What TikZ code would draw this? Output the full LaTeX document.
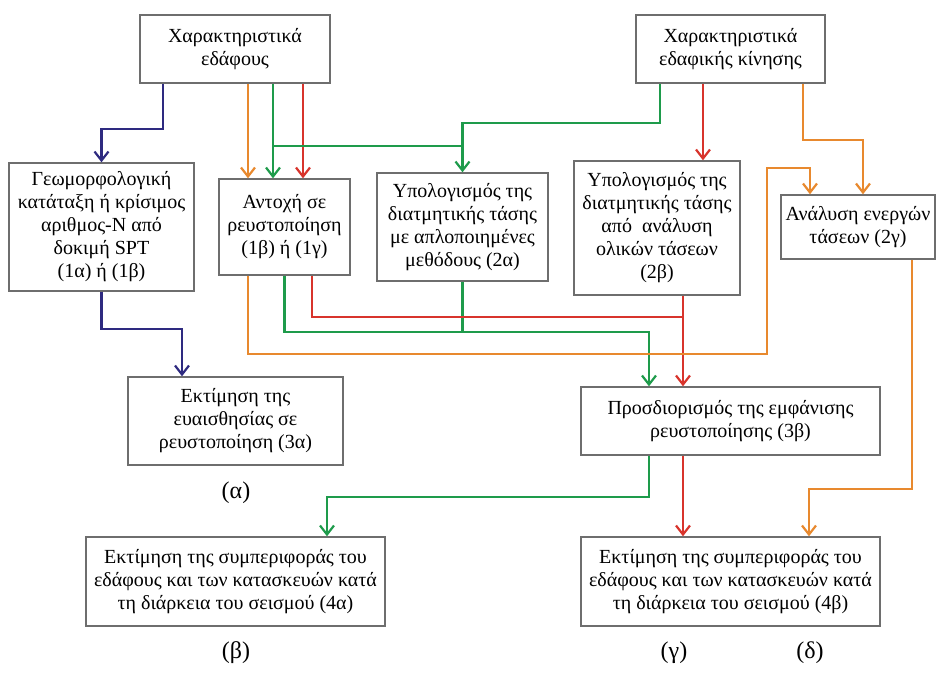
\documentclass[tikz,border=0pt]{standalone}
\usepackage{fontspec}
\setmainfont{Liberation Serif}
\usepackage{xcolor}
\usetikzlibrary{positioning, arrows.meta, calc}

\definecolor{flowblue}{HTML}{2E2A80}
\definecolor{floworange}{HTML}{E8892E}
\definecolor{flowgreen}{HTML}{1E9B4B}
\definecolor{flowred}{HTML}{D8342C}
\definecolor{boxgray}{HTML}{6E6E6E}

\begin{document}
\begin{tikzpicture}[
      x=0.5pt, y=-0.5pt,
      box/.style={
          draw=boxgray, rectangle, line width=0.7pt,
          align=center, inner sep=1pt,
          font=\fontsize{10}{11.5}\selectfont
        },
      tag/.style={font=\fontsize{12}{13}\selectfont},
      link/.style={line width=1.1pt},
      arrow/.style={link, -{Straight Barb[length=4.5pt, width=7pt, line width=1.1pt]}},
      bluearr/.style={arrow, color=flowblue},
      orangearr/.style={arrow, color=floworange},
      greenarr/.style={arrow, color=flowgreen},
      redarr/.style={arrow, color=flowred}
    ]
    \useasboundingbox (0,0) rectangle (937,674);

    % ── Inputs (top) ──
    \node[box, minimum width=95pt, minimum height=34pt] (soil) at (235,49)
      {Χαρακτηριστικά\\εδάφους};
    \node[box, minimum width=94.5pt, minimum height=34pt] (motion) at (730.5,49)
      {Χαρακτηριστικά\\εδαφικής κίνησης};

    % ── Intermediate steps ──
    \node[box, minimum width=92.5pt, minimum height=64pt] (geo) at (101.5,227)
      {Γεωμορφολογική\\κατάταξη ή κρίσιμος\\αριθμος-N από\\δοκιμή SPT\\(1α) ή (1β)};
    \node[box, minimum width=65.5pt, minimum height=48pt] (antoxi) at (284.5,227)
      {Αντοχή σε\\ρευστοποίηση\\(1β) ή (1γ)};
    \node[box, minimum width=85.5pt, minimum height=54pt] (calc2a) at (462.5,227)
      {Υπολογισμός της\\διατμητικής τάσης\\με απλοποιημένες\\μεθόδους (2α)};
    \node[box, minimum width=83pt, minimum height=67pt] (calc2b) at (657,228)
      {Υπολογισμός της\\διατμητικής τάσης\\από~ ανάλυση\\ολικών τάσεων\\(2β)};
    \node[box, minimum width=77pt, minimum height=32pt] (anal2g) at (858,227)
      {Ανάλυση ενεργών\\τάσεων (2γ)};

    % ── Liquefaction ──
    \node[box, minimum width=107.5pt, minimum height=44pt] (est3a) at (235.5,421)
      {Εκτίμηση της\\ευαισθησίας σε\\ρευστοποίηση (3α)};
    \node[box, minimum width=149.5pt, minimum height=34pt] (det3b) at (730.5,421)
      {Προσδιορισμός της εμφάνισης\\ρευστοποίησης (3β)};

    % ── Behaviour (bottom) ──
    \node[box, minimum width=149.5pt, minimum height=44.5pt] (beh4a) at (235.5,581.5)
      {Εκτίμηση της συμπεριφοράς του\\εδάφους και των κατασκευών κατά\\τη διάρκεια του σεισμού (4α)};
    \node[box, minimum width=149.5pt, minimum height=44.5pt] (beh4b) at (730.5,581.5)
      {Εκτίμηση της συμπεριφοράς του\\εδάφους και των κατασκευών κατά\\τη διάρκεια του σεισμού (4β)};

    % ── Panel tags ──
    \node[tag] (tagA) at (236,493) {(α)};
    \node[tag] (tagB) at (236,653) {(β)};
    \node[tag] (tagC) at (674,653) {(γ)};
    \node[tag] (tagD) at (810,653) {(δ)};

    % ── Path (α) ──
    \draw[bluearr] ([xshift=-36pt]soil.south) -- ++(0,45) -| (geo.north);
    \draw[bluearr] (geo.south) -- ++(0,37) -| ([xshift=-26.75pt]est3a.north);

    % ── Soil -> strength ──
    \draw[orangearr] ([xshift=-18.25pt]antoxi.north |- soil.south) -- ([xshift=-18.25pt]antoxi.north);
    \draw[greenarr]  ([xshift=-5.75pt]antoxi.north |- soil.south) -- ([xshift=-5.75pt]antoxi.north);
    \draw[redarr]    ([xshift=9.25pt]antoxi.north |- soil.south) -- ([xshift=9.25pt]antoxi.north);

    % ── Motion -> stresses ──
    \path ([xshift=-5.75pt]antoxi.north) ++(0,-32) coordinate (gsplit);
    \draw[greenarr] ([xshift=-35.25pt]motion.south) -- ++(0,39) -| (calc2a.north);
    \draw[link, flowgreen] (gsplit) -- (gsplit -| calc2a.north);
    \draw[redarr] ([xshift=23pt]calc2b.north |- motion.south) -- ([xshift=23pt]calc2b.north);
    \draw[orangearr] ([xshift=36.25pt]motion.south) -- ++(0,56) -| ([xshift=2.5pt]anal2g.north);

    % ── Path (γ) ──
    \draw[greenarr] (antoxi.south) -- ++(0,56) -| ([xshift=-40.75pt]det3b.north);
    \draw[link, flowgreen] (calc2a.south) -- ++(0,50);
    \draw[redarr] ([xshift=13.75pt]antoxi.south) -- ++(0,41) -| ([xshift=-23.75pt]det3b.north);
    \draw[link, flowred] ([xshift=13pt]calc2b.south) -- ++(0,21);
    \draw[greenarr] ([xshift=-40.75pt]det3b.south) -- ++(0,41) -| ([xshift=45.75pt]beh4a.north);
    \draw[redarr] ([xshift=-23.75pt]det3b.south) -- ([xshift=-23.75pt]beh4b.north);

    % ── Path (δ) ──
    \coordinate (oturn) at (767,168);
    \draw[orangearr] ([xshift=-18.25pt]antoxi.south) -- ++(0,78) -| (oturn)
      -| ([xshift=-24pt]anal2g.north);
    \draw[orangearr] ([xshift=27pt]anal2g.south) -- ++(0,229) -| ([xshift=39.25pt]beh4b.north);

  \end{tikzpicture}
\end{document}
